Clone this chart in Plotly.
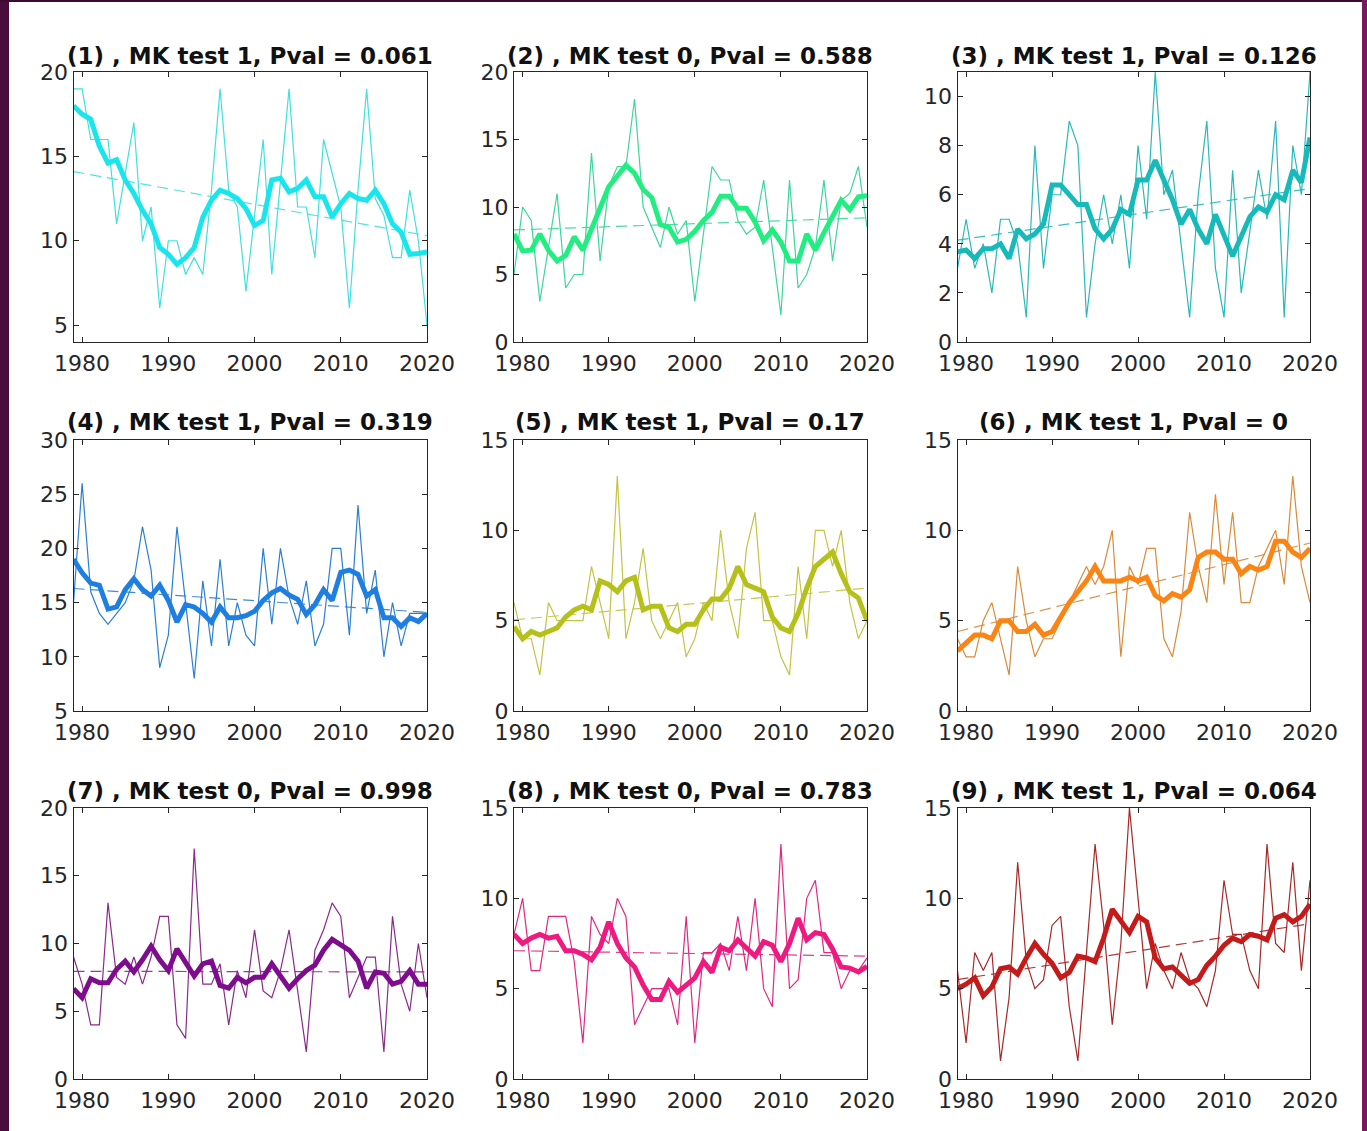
import plotly.graph_objects as go

# ---------------- data ----------------
years = list(range(1979, 2021))

titles = [
    "(1) , MK test 1, Pval = 0.061",
    "(2) , MK test 0, Pval = 0.588",
    "(3) , MK test 1, Pval = 0.126",
    "(4) , MK test 1, Pval = 0.319",
    "(5) , MK test 1, Pval = 0.17",
    "(6) , MK test 1, Pval = 0",
    "(7) , MK test 0, Pval = 0.998",
    "(8) , MK test 0, Pval = 0.783",
    "(9) , MK test 1, Pval = 0.064",
]

raw_1 = [19,19,16,16,16,11,14,17,10,12,6,10,10,8,9,8,13,19,13,12,7,11.5,16,8,13.5,19,12,12,9,16,14,12,6,13,19,12.5,11.5,9,9,13,10,5]
raw_2 = [5,10,9,3,7,11,4,5,5,14,6,11.5,13,13,18,10,8.5,7,10,8,9,3,8,13,12,12,9,8,8.5,12,7,2,12,4,5,7,12,6,10.5,11,13,8.5]
raw_3 = [3,5,3,4,2,5,5,4,1,8,3,6,6,9,8,1,4,6,4,6,3,8,5,11,6,7,4,1,6,9,3,1,7,2,4.5,7,5,9,1,8,6,11]
raw_4 = [15,26,16,14,13,14,15,17,22,18,9,12,22,15,8,17,11,19,11,15,12,11,20,13,20,15.5,13,17,11,13,20,20,12,24,14,18,10,15,11,14,14,14]
raw_5 = [6,4,4,2,6,5,5,5,5,8,6,4,13,4,6,9,5,4,5,6,3,4,6,5,10,6,4,9,11,5,5,3,2,8,4,10,10,8,10,6,4,5]
raw_6 = [4,3,3,5,6,4,2,8,5,3,4,4,5,6,7,8,7,8,10,3,8,7,9,9,4,3,5.5,11,8,6,12,7,11,6,6,8,9,10,7,13,8,6]
raw_7 = [9,7,4,4,13,7.5,7,9,7,9,12,12,4,3,17,7,7,8.5,4,8,6,11,6.5,6,8,11,6.5,2,9.5,11,13,12,6,7.5,9,9,2,12,7,5,10,6]
raw_8 = [8,10,6,6,9,9,9,6.5,2,9,8,7.5,10,9,3,4,5,5,5,3,9,2,7,7,7.5,6,9,6,10,5,4,13,5,5.5,10,11,7,7,5,6,6,6.7]
raw_9 = [6,2,7,6,7,1,4.5,12,6.5,5,5.5,8.5,9,4,1,7,13,8.5,3,7.5,15,10,5,7.5,6,5,7,5.5,5,4,6,11,8,8,6,5,13,7.5,7,12,6,11]

smooth_1 = [18.0,17.5,17.2,15.6,14.6,14.8,13.6,12.8,11.8,11.0,9.6,9.2,8.6,9.0,9.6,11.4,12.4,13.0,12.8,12.5,11.9,10.9,11.2,13.6,13.7,12.9,13.1,13.6,12.6,12.6,11.4,12.2,12.8,12.5,12.4,13.0,12.2,11.0,10.5,9.2,9.25,9.33]
smooth_2 = [8.0,6.75,6.8,8.0,6.8,6.0,6.4,7.8,6.8,8.3,9.9,11.5,12.3,13.1,12.5,11.3,10.7,8.7,8.5,7.4,7.6,8.2,9.0,9.6,10.8,10.8,9.9,9.9,8.9,7.5,8.3,7.4,6.0,6.0,8.0,6.8,8.1,9.3,10.5,9.8,10.75,10.83]
smooth_3 = [3.67,3.75,3.4,3.8,3.8,4.0,3.4,4.6,4.2,4.4,4.8,6.4,6.4,6.0,5.6,5.6,4.6,4.2,4.6,5.4,5.2,6.6,6.6,7.4,6.6,5.8,4.8,5.4,4.6,4.0,5.2,4.4,3.5,4.3,5.1,5.5,5.3,6.0,5.8,7.0,6.5,8.33]
smooth_4 = [19.0,17.75,16.8,16.6,14.4,14.6,16.2,17.2,16.2,15.6,16.6,15.2,13.2,14.8,14.6,14.0,13.2,14.6,13.6,13.6,13.8,14.2,15.2,15.9,16.3,15.7,15.3,13.9,14.8,16.2,15.2,17.8,18.0,17.6,15.6,16.2,13.6,13.6,12.8,13.6,13.25,14.0]
smooth_5 = [4.67,4.0,4.4,4.2,4.4,4.6,5.2,5.6,5.8,5.6,7.2,7.0,6.6,7.2,7.4,5.6,5.8,5.8,4.6,4.4,4.8,4.8,5.6,6.2,6.2,6.8,8.0,7.0,6.8,6.6,5.2,4.6,4.4,5.4,6.8,8.0,8.4,8.8,7.6,6.6,6.25,5.0]
smooth_6 = [3.33,3.75,4.2,4.2,4.0,5.0,5.0,4.4,4.4,4.8,4.2,4.4,5.2,6.0,6.6,7.2,8.0,7.2,7.2,7.2,7.4,7.2,7.4,6.4,6.1,6.5,6.3,6.7,8.5,8.8,8.8,8.4,8.4,7.6,8.0,7.8,8.0,9.4,9.4,8.8,8.5,9.0]
smooth_7 = [6.67,6.0,7.4,7.1,7.1,8.1,8.7,7.9,8.8,9.8,8.8,8.0,9.6,8.6,7.6,8.5,8.7,6.9,6.7,7.5,7.1,7.5,7.5,8.5,7.6,6.7,7.4,8.0,8.4,9.5,10.3,9.9,9.5,8.7,6.7,7.9,7.8,7.0,7.2,8.0,7.0,7.0]
smooth_8 = [8.0,7.5,7.8,8.0,7.8,7.9,7.1,7.1,6.9,6.6,7.3,8.7,7.5,6.7,6.2,5.2,4.4,4.4,5.4,4.8,5.2,5.6,6.5,5.9,7.3,7.1,7.7,7.2,6.8,7.6,7.4,6.5,7.5,8.9,7.7,8.1,8.0,7.2,6.2,6.14,5.93,6.23]
smooth_9 = [5.0,5.25,5.6,4.6,5.1,6.1,6.2,5.8,6.7,7.5,6.9,6.4,5.6,5.9,6.8,6.7,6.5,7.8,9.4,8.8,8.1,9.0,8.7,6.7,6.1,6.2,5.7,5.3,5.5,6.3,6.8,7.4,7.8,7.6,8.0,7.9,7.7,8.9,9.1,8.7,9.0,9.67]

trend_years = [1979, 2020]
trend_start = [14.1, 8.3, 4.15, 16.3, 5.05, 4.4, 7.95, 7.1, 5.5]
trend_end = [10.3, 9.2, 6.25, 14.1, 6.8, 9.3, 7.9, 6.8, 8.6]

y_ranges = [[4, 20], [0, 20], [0, 11], [5, 30], [0, 15], [0, 15], [0, 20], [0, 15], [0, 15]]
y_dtick = [5, 5, 2, 5, 5, 5, 5, 5, 5]
x_ticks = [1980, 1990, 2000, 2010, 2020]

raws = [raw_1, raw_2, raw_3, raw_4, raw_5, raw_6, raw_7, raw_8, raw_9]
smooths = [smooth_1, smooth_2, smooth_3, smooth_4, smooth_5, smooth_6, smooth_7, smooth_8, smooth_9]

thick_colors = ["#19e6ec", "#20ee80", "#17baba", "#1f7fe0", "#b5c01a", "#fb8514", "#7d0d8c", "#ee1a80", "#c41a1a"]
thin_colors = ["#3fe0e0", "#3cd69a", "#2ab8b8", "#2b7fd0", "#c2c444", "#d98a3a", "#8a2a8a", "#e0287f", "#a82828"]

# ---------------- layout geometry (pixels) ----------------
W, H = 1367, 1131
col_px = [(73.5, 427), (514, 867), (957.5, 1310)]
row_px = [(72, 342), (440, 711), (808, 1079)]
title_y_px = [56, 422, 791]

AX = "#262626"
FONT = "DejaVu Sans"

fig = go.Figure()
layout_axes = {}
annotations = []

for i in range(9):
    r, c = divmod(i, 3)
    n = "" if i == 0 else str(i + 1)
    xa, ya = "x" + n, "y" + n
    x0, x1 = col_px[c]
    y0, y1 = row_px[r]

    fig.add_trace(go.Scatter(x=years, y=raws[i], mode="lines",
                             line=dict(color=thin_colors[i], width=1.2),
                             xaxis=xa, yaxis=ya, showlegend=False, hoverinfo="skip"))
    fig.add_trace(go.Scatter(x=trend_years, y=[trend_start[i], trend_end[i]], mode="lines",
                             line=dict(color=thin_colors[i], width=1.2, dash="11px,6px"),
                             opacity=0.9, xaxis=xa, yaxis=ya, showlegend=False, hoverinfo="skip"))
    fig.add_trace(go.Scatter(x=years, y=smooths[i], mode="lines",
                             line=dict(color=thick_colors[i], width=5),
                             xaxis=xa, yaxis=ya, showlegend=False, hoverinfo="skip"))

    common = dict(showgrid=False, zeroline=False, showline=True, linecolor=AX, linewidth=1,
                  mirror="ticks", ticks="inside", ticklen=5, tickwidth=1, tickcolor=AX,
                  automargin=False,
                  tickfont=dict(family=FONT, size=22, color=AX))
    layout_axes["xaxis" + n] = dict(domain=[x0 / W, x1 / W], anchor=ya, range=[1979, 2020],
                                    tickmode="array", tickvals=x_ticks, ticklabelstandoff=2,
                                    ticktext=[str(v) for v in x_ticks], **common)
    layout_axes["yaxis" + n] = dict(domain=[1 - y1 / H, 1 - y0 / H], anchor=xa,
                                    range=y_ranges[i], tick0=0, dtick=y_dtick[i], **common)

    annotations.append(dict(text="<b>" + titles[i] + "</b>", xref="paper", yref="paper",
                            x=(x0 + x1) / 2 / W, y=1 - title_y_px[r] / H,
                            xanchor="center", yanchor="middle", showarrow=False,
                            font=dict(family=FONT, size=23, color="#111111")))

shapes = [
    dict(type="rect", xref="paper", yref="paper", x0=0, x1=9 / W, y0=0, y1=1,
         fillcolor="#4a0c3c", line=dict(width=0), layer="below"),
    dict(type="rect", xref="paper", yref="paper", x0=0, x1=1, y0=1 - 2 / H, y1=1,
         fillcolor="#3d0a30", line=dict(width=0), layer="below"),
    dict(type="rect", xref="paper", yref="paper", x0=1362 / W, x1=1, y0=0, y1=1,
         fillcolor="#7a1a5e", line=dict(width=0), layer="below"),
]

fig.update_layout(template="none", width=W, height=H,
                  margin=dict(l=0, r=0, t=0, b=0, pad=0, autoexpand=False),
                  paper_bgcolor="white", plot_bgcolor="white",
                  annotations=annotations, shapes=shapes, **layout_axes)

fig.write_html("out.html")
